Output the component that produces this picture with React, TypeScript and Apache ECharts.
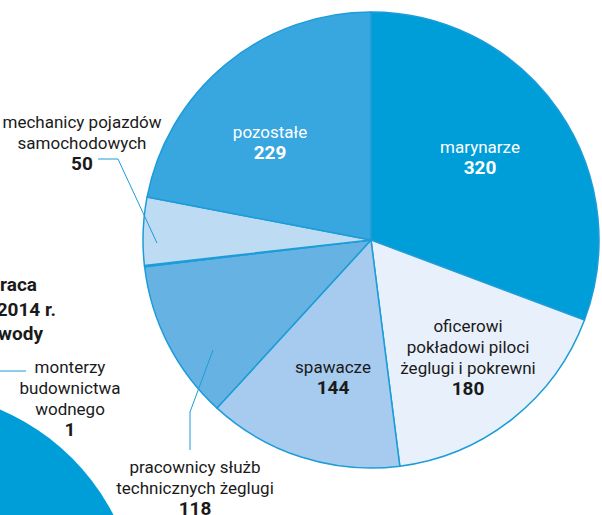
import React, { useEffect, useRef } from "react";
import * as echarts from "echarts";

const categories = [
  "marynarze",
  "oficerowi\npokładowi piloci\nżeglugi i pokrewni",
  "spawacze",
  "pracownicy służb\ntechnicznych żeglugi",
  "monterzy\nbudownictwa\nwodnego",
  "mechanicy pojazdów\nsamochodowych",
  "pozostałe",
];
const values = [320, 180, 144, 118, 1, 50, 229];
const sliceColors = ["#009ed9", "#e8f1fb", "#a6cbee", "#66b3e3", "#7fc0ea", "#bddbf3", "#38a6df"];
const labelColors = ["#ffffff", "#1a1a1a", "#1a1a1a", "#1a1a1a", "#1a1a1a", "#1a1a1a", "#ffffff"];
const outsideLabel = [false, false, false, true, true, true, false];
const titleLines = ["raca", "2014 r.", "wody"];

const FONT = "Roboto, 'Liberation Sans', sans-serif";

// label block centres (layout only)
const labelPos: [number, number][] = [
  [480, 157],
  [468, 357],
  [333, 377],
  [195, 487],
  [70, 398],
  [82, 142],
  [270, 142],
];
const leaderLines: number[][][] = [
  [[213, 350], [190, 412], [190, 450]],
  [[26, 371], [0, 371]],
  [[157, 243], [118, 159], [98, 159]],
];

export default function App() {
  const ref = useRef<HTMLDivElement>(null);
  useEffect(() => {
    document.body.style.margin = "0";
    const chart = echarts.init(ref.current!, null, { renderer: "svg" });
    const data = values.map((v, i) => ({
      value: v,
      name: categories[i],
      itemStyle: { color: sliceColors[i] },
      label: {
        position: outsideLabel[i] ? "outside" : "inside",
        rich: {
          n: { fontFamily: FONT, fontSize: 17, lineHeight: 21, color: labelColors[i], align: "center" },
          v: { fontFamily: FONT, fontSize: 19, fontWeight: "bold", lineHeight: 20, color: labelColors[i], align: "center" },
        },
      },
      labelLine: { show: false },
    }));
    chart.setOption({
      animation: false,
      graphic: [
        {
          type: "circle",
          shape: { cx: -90, cy: 620, r: 229 },
          style: { fill: "#009ed9" },
          silent: true,
        },
        ...leaderLines.map((pts) => ({
          type: "polyline",
          shape: { points: pts },
          style: { stroke: "#1c9cd8", lineWidth: 1, fill: null },
          z: 10,
          silent: true,
        })),
        ...titleLines.map((t, i) => ({
          type: "text",
          x: [37, 56, 43][i],
          y: [294, 319, 343][i],
          style: {
            text: t,
            fontFamily: FONT,
            fontSize: 19,
            fontWeight: "bold",
            fill: "#1a1a1a",
            textAlign: "right",
            textVerticalAlign: "bottom",
          },
        })),
      ],
      series: [
        {
          type: "pie",
          center: [371, 240],
          radius: 228,
          startAngle: 90,
          clockwise: true,
          silent: true,
          emphasis: { disabled: true },
          itemStyle: { borderColor: "#1c9cd8", borderWidth: 1.5 },
          label: {
            show: true,
            overflow: "none",
            formatter: (p: any) =>
              p.name
                .split("\n")
                .map((l: string) => `{n|${l}}`)
                .join("\n") + `\n{v|${p.value}}`,
          },
          labelLine: { show: false },
          labelLayout: (params: any) => {
            const [x, y] = labelPos[params.dataIndex];
            return { x, y, align: "center", verticalAlign: "middle" };
          },
          data,
        },
      ],
    });
    return () => chart.dispose();
  }, []);
  return <div ref={ref} style={{ width: 602, height: 515 }} />;
}
